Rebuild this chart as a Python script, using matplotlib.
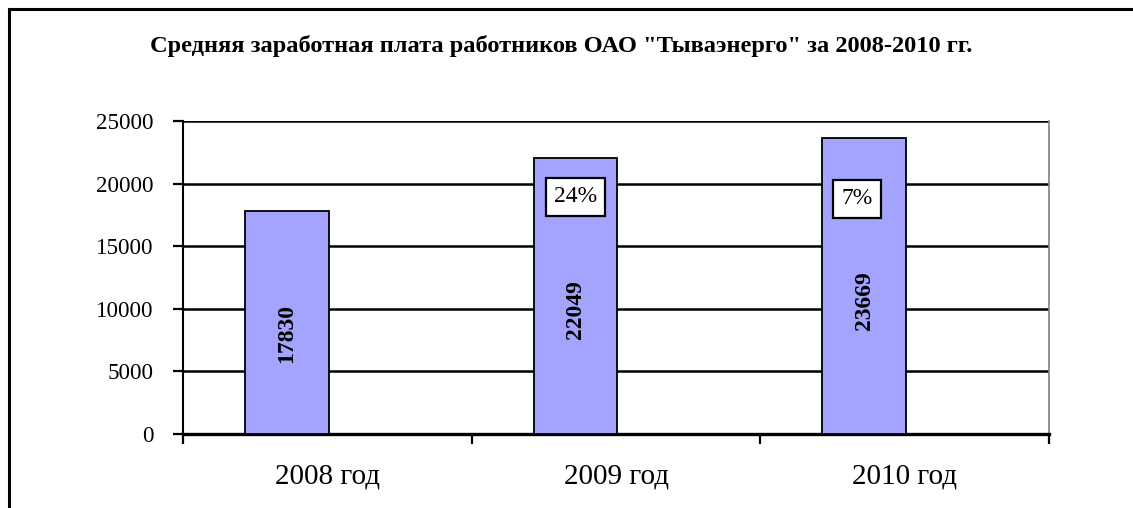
import matplotlib.pyplot as plt
from matplotlib.lines import Line2D

plt.rcParams['font.family'] = ['Liberation Serif', 'DejaVu Serif']

title = 'Средняя заработная плата работников ОАО "Тываэнерго" за 2008-2010 гг.'
years = ['2008 год', '2009 год', '2010 год']
salary = [17830, 22049, 23669]
growth = ['', '24%', '7%']
yticks = [0, 5000, 10000, 15000, 20000, 25000]

fig = plt.figure(figsize=(11.33, 5.08), dpi=100)
ax = fig.add_axes([0.1615, 0.1457, 0.9259 - 0.1615, 0.7618 - 0.1457])

# the bars sit in the left slot of each category (second slot is empty)
bw = 0.29
xpos = [i - 0.14 for i in range(len(years))]
ax.bar(xpos, salary, width=bw, color='#a4a4ff', edgecolor='black', linewidth=1.3, zorder=3)

ax.set_xlim(-0.5, 2.5)
ax.set_ylim(0, 25000)
ax.set_yticks(yticks)
ax.set_yticklabels([str(v) for v in yticks], fontsize=16.6)
ax.yaxis.grid(True, color='black', linewidth=1.8, zorder=0)
ax.set_axisbelow(True)

ax.set_xticks([-0.5, 0.5, 1.5, 2.5])
ax.set_xticklabels([])
ax.set_xticks(list(range(len(years))), minor=True)
ax.set_xticklabels(years, minor=True, fontsize=21)
ax.tick_params(axis='x', which='minor', length=0, pad=21)
ax.tick_params(axis='x', which='major', direction='out', length=7, width=1.6)
ax.tick_params(axis='y', direction='out', length=7, width=1.6, pad=14)

ax.spines['top'].set_visible(False)
ax.spines['right'].set_color('#808080')
ax.spines['right'].set_linewidth(1.2)
ax.spines['left'].set_linewidth(1.5)
ax.spines['bottom'].set_linewidth(2.4)

offsets = [None, (0, -28), (-5, -44)]
for i, v in enumerate(salary):
    ax.text(xpos[i], v * 0.45, str(v), rotation=90, ha='center', va='center',
            fontsize=17, fontweight='bold', zorder=4)
    if growth[i]:
        ax.annotate(growth[i], xy=(xpos[i], v), xytext=offsets[i],
                    textcoords='offset points', ha='center', va='center',
                    fontsize=17, zorder=5,
                    bbox=dict(boxstyle='square,pad=0.35', fc='white', ec='black', lw=1.6))

fig.text(0.495, 0.91, title, ha='center', va='center', fontsize=17.6, fontweight='bold')

# outer chart border (clipped at right and bottom)
fig.add_artist(Line2D([9 / 1133, 9 / 1133], [0, 1 - 9 / 508], color='black', lw=2.2,
                      transform=fig.transFigure))
fig.add_artist(Line2D([9 / 1133, 1], [1 - 9 / 508, 1 - 9 / 508], color='black', lw=2.2,
                      transform=fig.transFigure))

fig.savefig('out.png', dpi=100)
